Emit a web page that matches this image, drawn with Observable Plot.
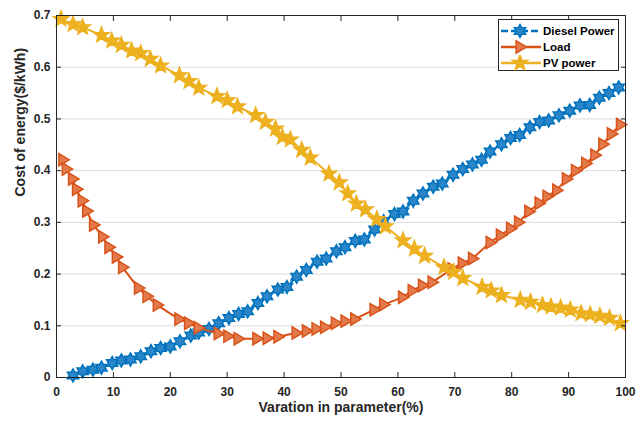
<!DOCTYPE html>
<html>
<head>
<meta charset="utf-8">
<script src="https://cdn.jsdelivr.net/npm/d3@7"></script>
<script src="https://cdn.jsdelivr.net/npm/@observablehq/plot@0.6"></script>
<style>
  body { margin: 0; background: #fff; }
  #wrap { position: relative; width: 644px; height: 421px; font-family: "Liberation Sans", Arial, sans-serif; }
  #legend { position: absolute; left: 498px; top: 19px; width: 121px; height: 52px; box-sizing: border-box;
            border: 1px solid #262626; background: #fff; padding-top: 3px; }
  .row { display: flex; align-items: center; height: 16px; }
  .row svg { display: block; margin-left: 1px; }
  .row span { font-weight: bold; font-size: 11.5px; color: #000; margin-left: 1px; white-space: nowrap; }
</style>
</head>
<body>
<div id="wrap"></div>
<script>
// ---- data ----
const xTicks = [0, 10, 20, 30, 40, 50, 60, 70, 80, 90, 100];
const yTicks = [0, 0.1, 0.2, 0.3, 0.4, 0.5, 0.6, 0.7];
const seriesNames = ["Diesel Power", "Load", "PV power"];
const xLabel = "Varation in parameter(%)";
const yLabel = "Cost of energy($/kWh)";

const dieselX = [2.9,4.6,6.4,7.9,9.8,11.4,13.0,14.8,16.6,18.3,20.0,21.7,23.6,25.0,26.8,28.5,30.3,32.0,33.6,35.4,37.0,38.9,40.5,42.2,43.9,45.8,47.4,49.2,50.7,52.5,54.1,55.9,57.5,59.4,60.9,62.7,64.4,66.2,67.8,69.7,71.4,73.1,74.7,76.2,78.2,79.8,81.4,83.2,84.9,86.5,88.3,90.2,92.0,93.7,95.4,97.1,98.8];
const dieselY = [0.004,0.012,0.015,0.019,0.028,0.033,0.035,0.041,0.051,0.057,0.060,0.070,0.081,0.087,0.094,0.105,0.115,0.123,0.128,0.144,0.157,0.170,0.175,0.195,0.208,0.224,0.230,0.244,0.252,0.264,0.267,0.286,0.302,0.316,0.321,0.342,0.356,0.369,0.375,0.392,0.403,0.412,0.421,0.437,0.451,0.463,0.469,0.484,0.494,0.497,0.507,0.516,0.526,0.527,0.541,0.550,0.561];

const loadX = [1.1,1.7,2.8,3.5,4.5,5.3,6.5,8.1,9.2,10.5,11.6,14.4,15.9,17.7,21.5,23.2,24.9,28.4,30.1,31.9,35.2,37.0,38.9,42.1,43.9,45.6,47.1,49.0,50.7,52.4,55.8,57.5,60.8,62.5,64.3,66.0,69.5,71.3,73.1,76.2,78.0,79.8,81.2,83.0,84.8,86.2,87.9,89.6,91.2,93.0,94.6,96.0,97.5,99.1];
const loadY = [0.421,0.403,0.384,0.364,0.342,0.322,0.295,0.272,0.252,0.233,0.213,0.173,0.157,0.140,0.113,0.105,0.096,0.085,0.080,0.075,0.075,0.076,0.079,0.086,0.090,0.094,0.097,0.105,0.109,0.113,0.131,0.141,0.155,0.168,0.178,0.184,0.210,0.221,0.230,0.261,0.275,0.288,0.300,0.321,0.337,0.350,0.362,0.384,0.400,0.414,0.430,0.451,0.471,0.489];

const pvX = [0.8,2.9,4.6,7.9,9.7,11.4,13.2,14.8,16.5,18.3,21.6,23.3,25.0,28.2,30.0,31.8,35.0,36.7,38.5,39.7,41.1,43.1,44.6,47.9,49.7,51.2,52.7,54.3,56.3,57.8,60.9,62.9,64.7,68.1,69.8,71.4,74.8,76.4,78.2,81.5,83.3,85.4,86.9,88.6,90.3,92.2,93.8,95.5,97.2,99.1];
const pvY = [0.693,0.683,0.677,0.662,0.651,0.643,0.632,0.627,0.616,0.603,0.584,0.573,0.560,0.544,0.536,0.524,0.507,0.494,0.481,0.465,0.460,0.440,0.425,0.394,0.377,0.356,0.336,0.325,0.306,0.292,0.265,0.249,0.235,0.213,0.204,0.192,0.175,0.168,0.159,0.150,0.146,0.140,0.137,0.135,0.131,0.124,0.122,0.119,0.115,0.105];

// ---- styling ----
const colors = ["#0072BD", "#D95319", "#EDB120"];
const fills = ["#2a86c8", "#e27a4c", "#EDB120"];

// custom marker shapes
const hexagram = {
  draw(ctx, size) {
    const R = Math.sqrt(size / Math.PI), r = R / Math.sqrt(3);
    for (let i = 0; i < 12; i++) {
      const a = -Math.PI / 2 + i * Math.PI / 6, rr = i % 2 ? r : R;
      const px = rr * Math.cos(a), py = rr * Math.sin(a);
      i ? ctx.lineTo(px, py) : ctx.moveTo(px, py);
    }
    ctx.closePath();
  }
};
const triRight = {
  draw(ctx, size) {
    const R = Math.sqrt(size / Math.PI);
    ctx.moveTo(R, 0);
    ctx.lineTo(-R * 0.6, -R * 0.95);
    ctx.lineTo(-R * 0.6, R * 0.95);
    ctx.closePath();
  }
};
const pentagram = {
  draw(ctx, size) {
    const R = Math.sqrt(size / Math.PI), r = R * 0.42;
    for (let i = 0; i < 10; i++) {
      const a = -Math.PI / 2 + i * Math.PI / 5, rr = i % 2 ? r : R;
      const px = rr * Math.cos(a), py = rr * Math.sin(a);
      i ? ctx.lineTo(px, py) : ctx.moveTo(px, py);
    }
    ctx.closePath();
  }
};
const symbols = [hexagram, triRight, pentagram];
const radii = [6.5, 6.5, 8];
const dashes = ["7,3", null, null];

const toRows = (xs, ys) => xs.map((x, i) => ({x, y: ys[i]}));
const series = [toRows(dieselX, dieselY), toRows(loadX, loadY), toRows(pvX, pvY)];

const ink = "#262626";
const marks = [Plot.gridY(yTicks, {stroke: "#dcdcdc", strokeOpacity: 1, strokeWidth: 1})];
series.forEach((data, i) => {
  marks.push(Plot.line(data, {x: "x", y: "y", stroke: colors[i], strokeWidth: 2,
    strokeDasharray: dashes[i] || undefined}));
  marks.push(Plot.dot(data, {x: "x", y: "y", symbol: symbols[i], r: radii[i],
    fill: fills[i], stroke: colors[i], strokeWidth: 1.5}));
});
marks.push(
  Plot.frame({stroke: ink, strokeWidth: 1}),
  Plot.axisX(xTicks, {anchor: "bottom", tickSize: -5, tickPadding: 15, label: null,
    fontSize: 12, fontWeight: "bold", fill: ink, stroke: ink}),
  Plot.axisX(xTicks, {anchor: "top", tickSize: -5, tickFormat: () => "", label: null, stroke: ink}),
  Plot.axisY(yTicks, {anchor: "left", tickSize: -5, tickPadding: 11, label: null,
    tickFormat: d => d === 0 ? "0" : d3.format(".1f")(d), fontSize: 12, fontWeight: "bold", fill: ink, stroke: ink}),
  Plot.axisY(yTicks, {anchor: "right", tickSize: -5, tickFormat: () => "", label: null, stroke: ink}),
  Plot.text([xLabel], {frameAnchor: "bottom", dy: 34, fontSize: 14, fontWeight: "bold", fill: ink}),
  Plot.text([yLabel], {frameAnchor: "left", dx: -36, rotate: -90, fontSize: 14, fontWeight: "bold", fill: ink})
);

const chart = Plot.plot({
  width: 644, height: 421,
  marginLeft: 56, marginRight: 19, marginTop: 15, marginBottom: 44,
  style: {fontFamily: "'Liberation Sans', Arial, sans-serif", background: "#fff", overflow: "visible"},
  x: {domain: [0, 100]},
  y: {domain: [0, 0.7]},
  marks
});
const wrap = document.getElementById("wrap");
wrap.appendChild(chart);

// ---- legend ----
const legend = document.createElement("div");
legend.id = "legend";
seriesNames.forEach((name, i) => {
  const row = document.createElement("div");
  row.className = "row";
  const svg = d3.create("svg").attr("width", 42).attr("height", 16);
  svg.append("line").attr("x1", 1).attr("x2", 41).attr("y1", 8).attr("y2", 8)
    .attr("stroke", colors[i]).attr("stroke-width", 2.5)
    .attr("stroke-dasharray", dashes[i] || null);
  svg.append("path").attr("transform", "translate(20,8)")
    .attr("d", d3.symbol(symbols[i], Math.PI * radii[i] * radii[i])())
    .attr("fill", fills[i]).attr("stroke", colors[i]).attr("stroke-width", 1.5);
  row.appendChild(svg.node());
  const span = document.createElement("span");
  span.textContent = name;
  row.appendChild(span);
  legend.appendChild(row);
});
wrap.appendChild(legend);
</script>
</body>
</html>
